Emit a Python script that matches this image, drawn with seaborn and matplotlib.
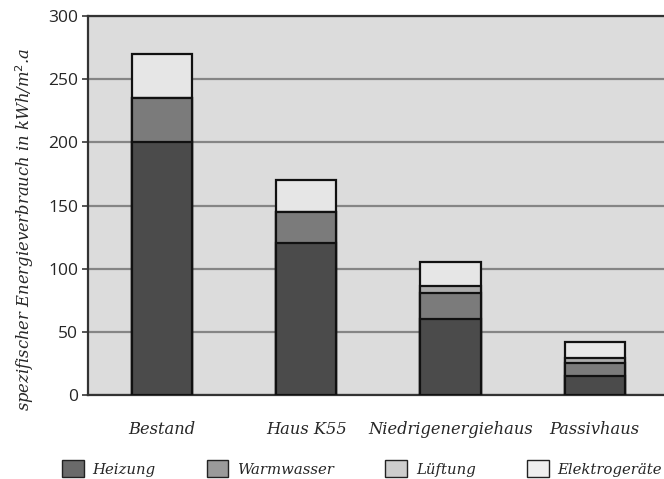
import numpy as np
import pandas as pd
import matplotlib
matplotlib.use("Agg")
import matplotlib.pyplot as plt
from matplotlib.patches import Patch
import seaborn as sns

categories = ["Bestand", "Haus K55", "Niedrigenergiehaus", "Passivhaus"]
heizung = [200, 120, 60, 15]
warmwasser = [35, 25, 21, 10]
lueftung = [0, 0, 5, 4]
elektro = [35, 25, 19, 13]
series = ["Heizung", "Warmwasser", "Lüftung", "Elektrogeräte"]

bar_colors = ["#4b4b4b", "#7b7b7b", "#ababab", "#e6e6e6"]
legend_colors = ["#6a6a6a", "#9a9a9a", "#cdcdcd", "#efefef"]
label_font = "DejaVu Serif"

sns.set_style("white")
fig = plt.figure(figsize=(6.64, 4.79), dpi=100)
ax = fig.add_axes([88 / 664, 1 - 395 / 479, 1 - 88 / 664, (395 - 16) / 479])
ax.set_facecolor("#dcdcdc")

layers = [heizung, warmwasser, lueftung, elektro]
cum = np.cumsum(np.array(layers), axis=0)
# draw from the top layer down so each lower block covers the one above
for i in range(3, -1, -1):
    sns.barplot(x=categories, y=cum[i], color=bar_colors[i], saturation=1,
                width=0.417, edgecolor="#111111", linewidth=1.6, ax=ax, zorder=3)

ax.set_xlim(-0.513, 3.48)
ax.set_ylim(0, 300)
ax.set_yticks(range(0, 301, 50))
ax.yaxis.grid(True, color="#858585", linewidth=1.6, zorder=0)
ax.set_axisbelow(True)

for s in ["left", "bottom", "top"]:
    ax.spines[s].set_color("#333333")
    ax.spines[s].set_linewidth(1.6)
ax.spines["right"].set_visible(False)

ax.tick_params(axis="y", length=4, width=1.4, color="#555555", pad=3,
               labelsize=12.5, left=True)
ax.tick_params(axis="x", length=0, pad=19)
for lab in ax.get_yticklabels():
    lab.set_fontfamily("Open Sans")
for lab in ax.get_xticklabels():
    lab.set_fontfamily(label_font)
    lab.set_fontstyle("italic")
    lab.set_fontsize(11.7)

ax.set_xlabel("")
ax.set_ylabel("spezifischer Energieverbrauch in kWh/m$^2$.a", fontsize=11.8,
              fontstyle="italic", fontfamily=label_font)
ax.yaxis.set_label_coords(-0.091, 0.438)

handles = [Patch(facecolor=c, edgecolor="#222222", linewidth=1.0) for c in legend_colors]
leg = fig.legend(handles, series, ncol=4, loc="lower left",
                 bbox_to_anchor=(62 / 664, 2 / 479), frameon=False, borderpad=0,
                 borderaxespad=0,
                 prop={"family": label_font, "style": "italic", "size": 10.7},
                 handlelength=1.45, handleheight=1.35, handletextpad=0.6,
                 columnspacing=3.45)

fig.savefig("out.png", dpi=100)
